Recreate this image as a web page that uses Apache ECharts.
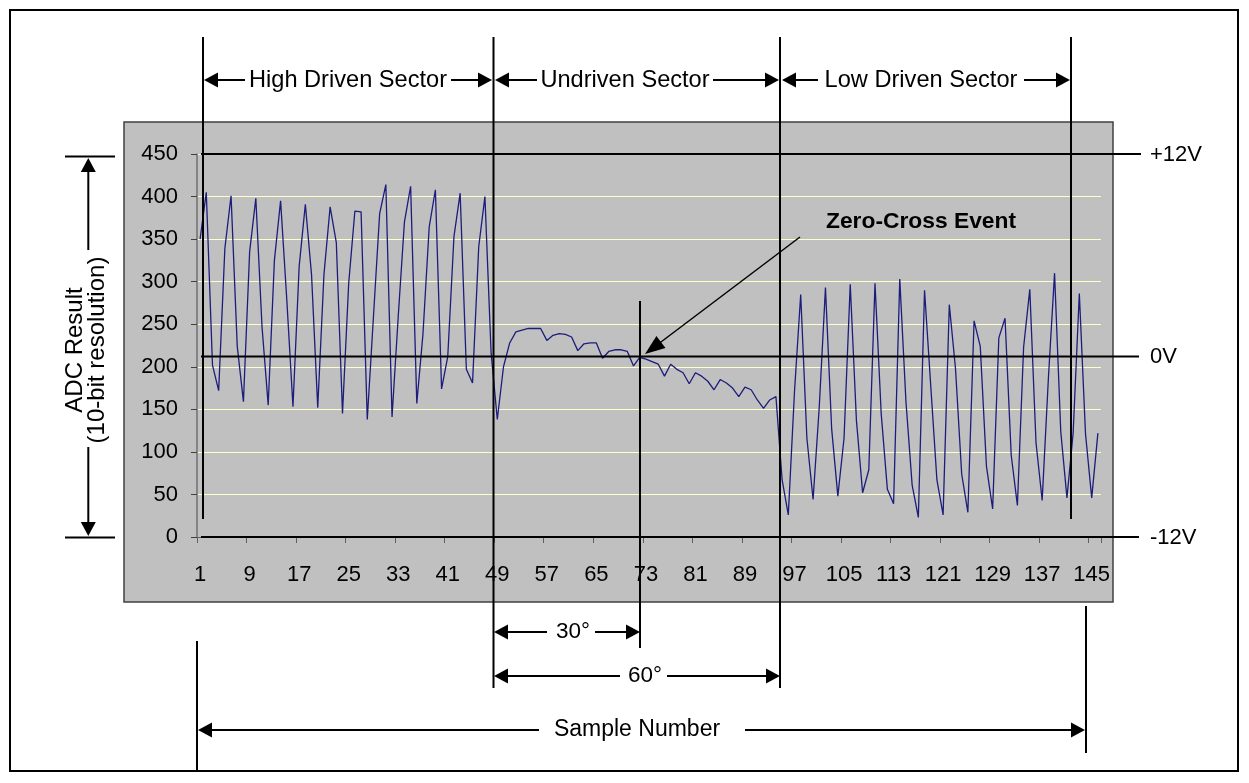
<!DOCTYPE html>
<html>
<head>
<meta charset="utf-8">
<script src="https://cdn.jsdelivr.net/npm/echarts@6/dist/echarts.min.js"></script>
<style>
html,body{margin:0;padding:0;background:#fff;}
#chart{width:1249px;height:783px;}
</style>
</head>
<body>
<div id="chart"></div>
<script>
// ---- data ----
const sampleNumbers = Array.from({length: 146}, (_, i) => String(i + 1));
const adcValues = [
  350,405,202,172,339,401,224,159,335,398,
  247,155,325,395,279,153,318,391,308,152,
  308,388,346,145,298,383,382,138,259,380,
  414,141,259,370,412,157,239,364,408,174,
  212,353,404,197,181,341,400,216,138,200,
  228,241,243,245,245,245,231,237,239,238,
  235,219,227,228,228,210,218,220,220,218,
  201,211,209,206,203,189,203,197,193,180,
  193,189,183,173,185,181,175,165,176,173,
  161,151,161,165,67,26,171,285,116,44,
  153,293,127,48,116,297,137,52,79,298,
  145,56,39,303,159,61,23,290,178,67,
  26,273,198,74,29,254,224,83,33,234,
  257,96,37,223,291,111,43,186,310,124,
  46,122,286,121,46,122
];
const yTicks = {min: 0, max: 450, interval: 50};
const sectorLabels = ['High Driven Sector', 'Undriven Sector', 'Low Driven Sector'];
const voltageLabels = ['+12V', '0V', '-12V'];
const angleLabels = ['30°', '60°'];
const axisTitles = {x: 'Sample Number', y: 'ADC Result\n(10-bit resolution)'};
const eventLabel = 'Zero-Cross Event';

// ---- annotation helpers ----
const FONT = '"Liberation Sans", Arial, sans-serif';
const BLACK = '#000';
function line(x1, y1, x2, y2, w) {
  return {type: 'line', z: 100, shape: {x1, y1, x2, y2}, style: {stroke: BLACK, lineWidth: w || 2}};
}
function head(tx, ty, dx, dy, len, hw) {
  len = len || 14; hw = hw || 7.5;
  const n = Math.hypot(dx, dy); dx /= n; dy /= n;
  const bx = tx - dx * len, by = ty - dy * len;
  const px = -dy, py = dx;
  return {type: 'polygon', z: 100, shape: {points: [[tx, ty], [bx + px * hw, by + py * hw], [bx - px * hw, by - py * hw]]}, style: {fill: BLACK}};
}
function text(str, x, y, opts) {
  opts = opts || {};
  return {type: 'text', z: 100, x, y, rotation: opts.rotation || 0,
    style: {text: str, font: (opts.bold ? 'bold ' : '') + (opts.size || 22) + 'px ' + FONT,
      fill: BLACK, align: opts.align || 'center', verticalAlign: 'middle', lineHeight: opts.lineHeight}};
}
// horizontal dimension arrow with label gap
function dimArrow(xl, xr, y, t1, t2, label, cx, size) {
  return [
    head(xl, y, -1, 0), line(xl + 12, y, t1, y),
    text(label, cx, y, {size: size}),
    line(t2, y, xr - 12, y), head(xr, y, 1, 0)
  ];
}

const g = [];
// chart-area background
g.push({type: 'rect', z: -10, shape: {x: 124, y: 122, width: 989, height: 480},
  style: {fill: '#C0C0C0', stroke: '#404040', lineWidth: 1.5}});
// outer frame
g.push({type: 'rect', z: 100, shape: {x: 10, y: 10, width: 1228, height: 761},
  style: {fill: 'none', stroke: BLACK, lineWidth: 2}});
// vertical sector lines
g.push(line(203, 37, 203, 519));
g.push(line(493.5, 37, 493.5, 688));
g.push(line(780, 37, 780, 688));
g.push(line(1071, 37, 1071, 519));
g.push(line(640, 301, 640, 648));
// voltage lines
g.push(line(201, 154, 1141, 154));
g.push(line(201, 356.5, 1139, 356.5));
g.push(line(201, 537, 1139, 537));
g.push(text(voltageLabels[0], 1150, 155, {align: 'left'}));
g.push(text(voltageLabels[1], 1150, 357, {align: 'left'}));
g.push(text(voltageLabels[2], 1150, 538, {align: 'left'}));
// sector arrows
g.push(...dimArrow(204, 492, 80, 245, 451, sectorLabels[0], 348, 23.6));
g.push(...dimArrow(495, 779, 80, 537, 713, sectorLabels[1], 625, 23.6));
g.push(...dimArrow(782, 1070, 80, 818, 1024, sectorLabels[2], 921, 23.6));
// y-axis dimension arrow
g.push(line(65, 156.5, 115, 156.5));
g.push(line(65, 537.5, 115, 537.5));
g.push(head(88.3, 158, 0, -1, 14, 7.5));
g.push(line(88.3, 170, 88.3, 250));
g.push(line(88.3, 447, 88.3, 524));
g.push(head(88.3, 536, 0, 1, 14, 7.5));
g.push(text(axisTitles.y, 86, 350, {rotation: Math.PI / 2, lineHeight: 22, size: 24}));
// bottom angle arrows
g.push(...dimArrow(494, 640, 632, 547, 595, angleLabels[0], 573, 22.5));
g.push(...dimArrow(494, 780, 676, 620, 667, angleLabels[1], 645, 22.5));
// sample number arrow
g.push(line(197, 641, 197, 770));
g.push(line(1086, 606, 1086, 753));
g.push(...dimArrow(198, 1085, 730, 539, 745, axisTitles.x, 637, 23));
// zero-cross event
g.push(text(eventLabel, 921, 222, {bold: true, size: 22.8}));
g.push(line(800, 237, 655, 346.5, 1.5));
g.push(head(645, 354, -155, 117, 20, 7.5));

const chart = echarts.init(document.getElementById('chart'), null, {renderer: 'canvas'});
chart.setOption({
  animation: false,
  backgroundColor: '#fff',
  grid: {left: 197, right: 148, top: 154, bottom: 246, show: false},
  xAxis: {
    type: 'category', data: sampleNumbers, boundaryGap: true,
    axisLine: {show: true, lineStyle: {color: '#606060', width: 1}},
    axisTick: {show: true, interval: 7, length: 6, lineStyle: {color: '#606060'}},
    axisLabel: {interval: 7, fontSize: 22, fontFamily: FONT, color: '#000', margin: 27},
    splitLine: {show: false}
  },
  yAxis: {
    type: 'value', min: yTicks.min, max: yTicks.max, interval: yTicks.interval,
    axisLine: {show: true, lineStyle: {color: '#707070', width: 1.5}},
    axisTick: {show: true, length: 6, lineStyle: {color: '#404040'}},
    axisLabel: {fontSize: 22, fontFamily: FONT, color: '#000', margin: 19},
    splitLine: {show: true, lineStyle: {color: '#FFFFCC', width: 1}}
  },
  series: [{
    type: 'line', data: adcValues, symbol: 'none', silent: true,
    lineStyle: {color: '#1C1C7C', width: 1.3}
  }],
  graphic: {elements: g}
});
</script>
</body>
</html>
